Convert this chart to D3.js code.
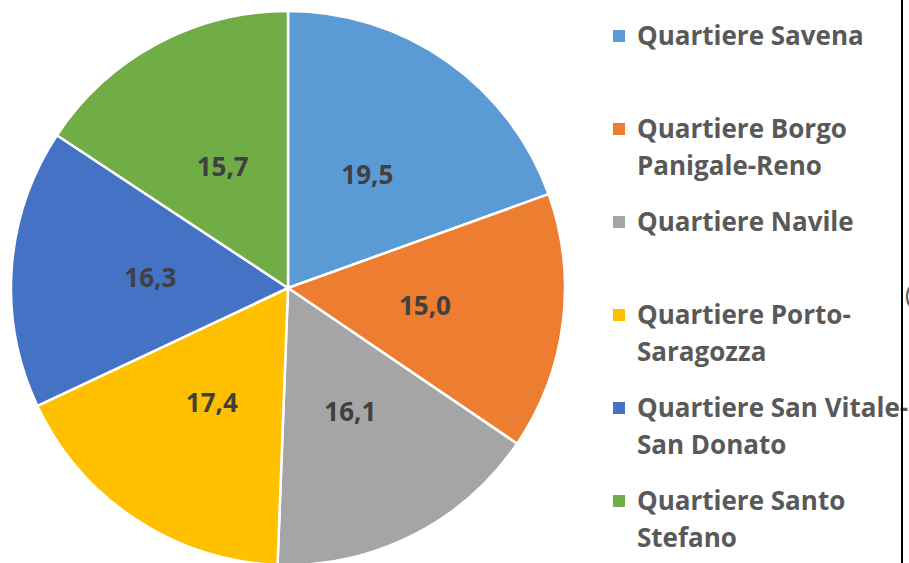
<!DOCTYPE html>
<html><head><meta charset="utf-8">
<script src="https://cdn.jsdelivr.net/npm/d3@7/dist/d3.min.js"></script>
<style>body{margin:0;background:#fff;}svg{display:block;}</style>
</head><body>
<svg id="chart" width="909" height="563"></svg>
<script>
const categories = ["Quartiere Savena","Quartiere Borgo Panigale-Reno","Quartiere Navile","Quartiere Porto-Saragozza","Quartiere San Vitale-San Donato","Quartiere Santo Stefano"];
const values = [19.5, 15.0, 16.1, 17.4, 16.3, 15.7];
const legendLines = [["Quartiere Savena"],["Quartiere Borgo","Panigale-Reno"],["Quartiere Navile"],["Quartiere Porto-","Saragozza"],["Quartiere San Vitale-","San Donato"],["Quartiere Santo","Stefano"]];
const colors = ["#5B9BD5","#ED7D31","#A5A5A5","#FFC000","#4472C4","#70AD47"];

const svg = d3.select("#chart");
const cx = 288, cy = 288, R = 277;
const FONT = "'Open Sans', sans-serif";
const fmt = d3.formatLocale({decimal:",",thousands:".",grouping:[3],currency:["€",""]}).format(".1f");
const color = d3.scaleOrdinal().domain(categories).range(colors);
const pie = d3.pie().sort(null).value(d => d.v);
const data = categories.map((c,i) => ({c, v: values[i]}));
const arcs = pie(data);
const arc = d3.arc().innerRadius(0).outerRadius(R);
const labelArc = d3.arc().innerRadius(138).outerRadius(138);

const g = svg.append("g").attr("transform", `translate(${cx},${cy})`);
g.selectAll("path").data(arcs).join("path")
  .attr("d", arc).attr("fill", d => color(d.data.c))
  .attr("stroke", "#fff").attr("stroke-width", 2.5).attr("stroke-linejoin","round");
g.selectAll("text").data(arcs).join("text")
  .attr("transform", d => `translate(${labelArc.centroid(d)})`)
  .attr("text-anchor","middle").attr("dy","0.36em")
  .attr("font-family", FONT).attr("font-weight","bold")
  .attr("font-size", 26).attr("fill","#404040")
  .text(d => fmt(d.data.v));

// legend
const legY = d3.scalePoint().domain(categories).range([45, 510]);
const lg = svg.append("g");
const items = lg.selectAll("g").data(categories).join("g")
  .attr("transform", d => `translate(0,${legY(d)})`);
items.append("rect").attr("x", 613).attr("y", -15).attr("width", 12).attr("height", 12)
  .attr("fill", d => color(d));
items.append("text").attr("x", 637)
  .attr("font-family", FONT).attr("font-weight","bold")
  .attr("font-size", 26).attr("fill","#595959")
  .selectAll("tspan").data((d,i) => legendLines[i]).join("tspan")
  .attr("x", 637).attr("dy", (d,j) => j === 0 ? 0 : 37).text(d => d);

// right border line and clipped glyph
svg.append("line").attr("x1", 902).attr("x2", 902).attr("y1", 0).attr("y2", 563)
  .attr("stroke", "#000").attr("stroke-width", 2);
svg.append("text").attr("x", 905).attr("y", 303)
  .attr("font-family", FONT).attr("font-size", 24).attr("fill","#595959").text("(");
</script>
</body></html>
